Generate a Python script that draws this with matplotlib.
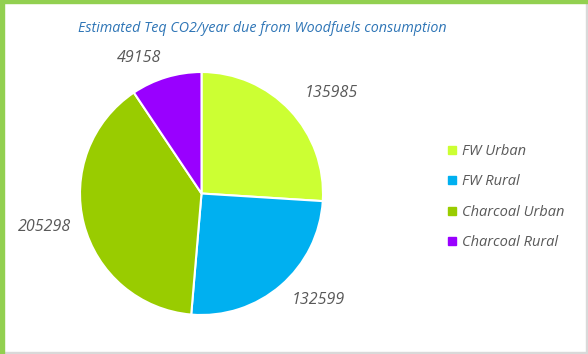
import numpy as np
import matplotlib.pyplot as plt
from matplotlib.lines import Line2D
from matplotlib.patches import Rectangle

categories = ['FW Urban', 'FW Rural', 'Charcoal Urban', 'Charcoal Rural']
values = [135985, 132599, 205298, 49158]
colors = ['#CCFF33', '#00B0F0', '#99CC00', '#9900FF']
title = 'Estimated Teq CO2/year due from Woodfuels consumption'

# label placement (angle tweak in degrees, distance in radii), like Excel's best fit
label_shift = [-5.5, 6.8, -2.3, 7.7]
label_dist = [1.35, 1.30, 1.32, 1.23]

plt.rcParams['font.family'] = ['Open Sans', 'DejaVu Sans']
grey = '#595959'

fig = plt.figure(figsize=(5.88, 3.54), dpi=100)

# frame: green top/left, light grey right/bottom
fig.patches.append(Rectangle((0, 0), 0.006, 1, transform=fig.transFigure, color='#92D050', zorder=5))
fig.patches.append(Rectangle((0, 0.992), 1, 0.008, transform=fig.transFigure, color='#92D050', zorder=5))
fig.patches.append(Rectangle((0.996, 0), 0.004, 0.992, transform=fig.transFigure, color='#D9D9D9', zorder=4))
fig.patches.append(Rectangle((0.006, 0), 0.99, 0.006, transform=fig.transFigure, color='#D9D9D9', zorder=4))

ax = fig.add_axes([80 / 588, (354 - 315) / 354, 243 / 588, 243 / 354])
wedges, _ = ax.pie(values, colors=colors, startangle=90, counterclock=False,
                   radius=1, wedgeprops=dict(edgecolor='white', linewidth=1.5))
ax.set_xlim(-1, 1)
ax.set_ylim(-1, 1)
ax.set_aspect('equal')
ax.axis('off')

for w, v, sh, d in zip(wedges, values, label_shift, label_dist):
    ang = np.deg2rad((w.theta1 + w.theta2) / 2 + sh)
    ax.text(d * np.cos(ang), d * np.sin(ang), str(v), ha='center', va='center',
            fontsize=11.5, style='italic', color=grey, clip_on=False)

fig.text(262 / 588, 1 - 28 / 354, title, ha='center', va='center',
         fontsize=10.3, style='italic', color='#2E75B6')

handles = [Line2D([], [], marker='s', linestyle='', markersize=6,
                  markerfacecolor=c, markeredgecolor=c) for c in colors]
leg = fig.legend(handles, categories, loc='center left',
                 bbox_to_anchor=(434 / 588, 1 - 197 / 354), frameon=False,
                 handlelength=0.6, handletextpad=0.4, labelspacing=1.05,
                 prop=dict(size=10.5, style='italic'))
for t in leg.get_texts():
    t.set_color(grey)

fig.savefig('out.png', dpi=100)
